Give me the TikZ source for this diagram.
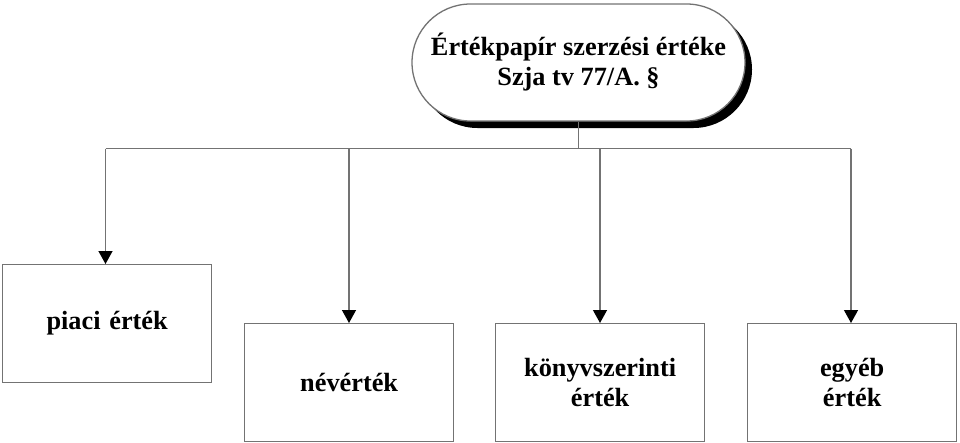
\documentclass[tikz,border=0pt]{standalone}
\usepackage{fontspec}
\setmainfont{Liberation Serif}
\usetikzlibrary{shapes.misc,arrows.meta}
\begin{document}
\begin{tikzpicture}[x=1pt,y=-1pt,
  lbl/.style={font=\fontsize{26.3}{30}\selectfont\bfseries, align=center, text=black},
  boxn/.style={draw=black!55, line width=1.3pt, minimum width=209pt, minimum height=118pt, inner sep=0pt, anchor=north west, text width=205pt},
  conn/.style={draw=black!55, line width=1.3pt},
  arr/.style={conn, -{Triangle[length=13pt,width=14pt,fill=black,color=black]}}]
\useasboundingbox (0,0) rectangle (960,442);
% title stadium with shadow
\node[rounded rectangle, fill=black, minimum width=333pt, minimum height=117pt, inner sep=0pt] (shadow) at (585.5,69.5) {};
\node[rounded rectangle, draw=black!55, line width=1.3pt, fill=white, minimum width=333pt, minimum height=117pt, inner sep=0pt, lbl] (top) at (578.5,62.5) {Értékpapír szerzési értéke\\Szja tv 77/A. §};
% boxes
\node[boxn, lbl] (piaci) at (2,264) {piaci érték};
\node[boxn, lbl] (nev) at (244,323) {\raisebox{-0.45em}{névérték}};
\node[boxn, lbl] (konyv) at (495,323) {könyvszerinti\\érték};
\node[boxn, lbl] (egyeb) at (747,323) {egyéb\\érték};
% bus
\coordinate (bus) at (578.5,148.5);
\coordinate (b1) at (105.5,148.5);
\coordinate (b2) at (349,148.5);
\coordinate (b3) at (600,148.5);
\coordinate (b4) at (851,148.5);
\draw[conn] (top.south) -- (bus);
\draw[conn] (b1) -- (b4);
\draw[arr] (b1) -- (b1 |- piaci.north);
\draw[arr] (b2) -- (b2 |- nev.north);
\draw[arr] (b3) -- (b3 |- konyv.north);
\draw[arr] (b4) -- (b4 |- egyeb.north);
\end{tikzpicture}
\end{document}
